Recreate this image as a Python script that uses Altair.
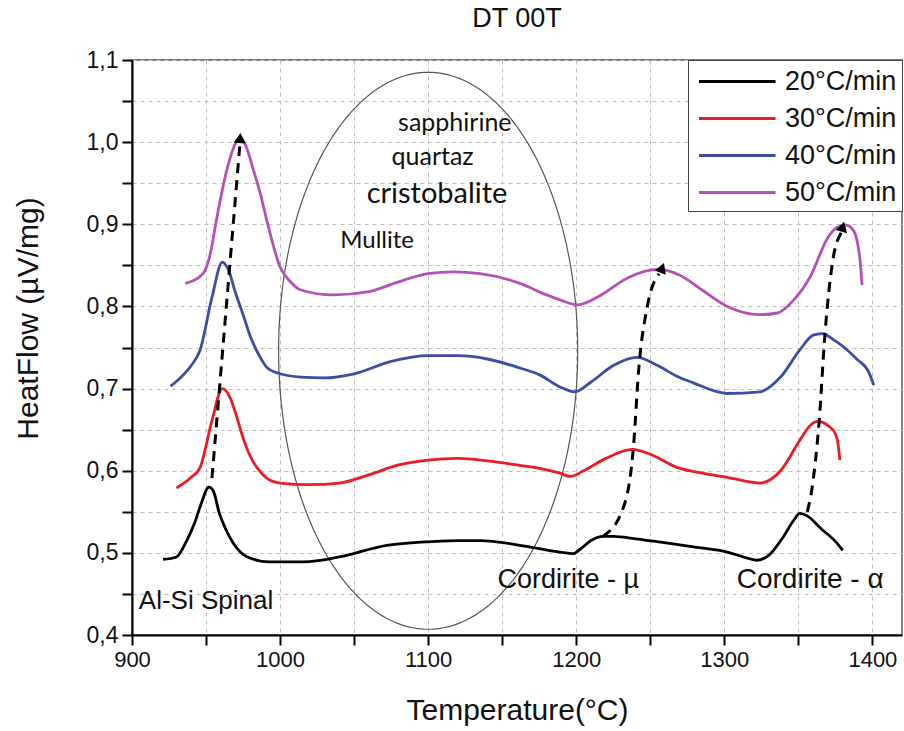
import altair as alt
import pandas as pd
import numpy as np

# ---------------- data ----------------
series_names = ["20°C/min", "30°C/min", "40°C/min", "50°C/min"]
series_colors = ["#000000", "#ec1c24", "#3b4ea3", "#b550b6"]

t20 = [921, 930, 937, 942, 946, 952, 955, 959, 963, 968, 978, 993, 1016, 1040, 1072, 1095, 1120, 1135,
       1169, 1189, 1198, 1203, 1210, 1218, 1225, 1240, 1257, 1280, 1302, 1315, 1322, 1330, 1340, 1347,
       1351, 1356, 1365, 1375, 1380]
v20 = [0.492, 0.495, 0.515, 0.535, 0.556, 0.580, 0.575, 0.548, 0.530, 0.513, 0.495, 0.489, 0.489, 0.495,
       0.509, 0.513, 0.515, 0.515, 0.507, 0.501, 0.499, 0.505, 0.515, 0.520, 0.520, 0.517, 0.513, 0.507,
       0.501, 0.494, 0.491, 0.497, 0.520, 0.540, 0.548, 0.545, 0.530, 0.514, 0.503]

t30 = [930, 940, 946, 954, 961, 966, 970, 975, 980, 986, 991, 1000, 1020, 1040, 1060, 1080, 1100, 1120,
       1140, 1160, 1180, 1189, 1196, 1205, 1220, 1238, 1250, 1268, 1285, 1302, 1324, 1338, 1351, 1358,
       1363, 1370, 1375, 1377, 1378]
v30 = [0.579, 0.592, 0.604, 0.661, 0.700, 0.690, 0.670, 0.640, 0.617, 0.600, 0.591, 0.585, 0.583, 0.585,
       0.595, 0.607, 0.613, 0.615, 0.612, 0.607, 0.601, 0.597, 0.593, 0.600, 0.615, 0.626, 0.620, 0.604,
       0.597, 0.592, 0.585, 0.600, 0.637, 0.655, 0.660, 0.655, 0.645, 0.630, 0.613]

t40 = [926, 932, 940, 946, 954, 961, 965, 970, 975, 980, 986, 991, 1000, 1014, 1030, 1050, 1075, 1100,
       1120, 1140, 1162, 1175, 1189, 1199, 1210, 1225, 1241, 1255, 1268, 1279, 1302, 1324, 1338, 1351,
       1360, 1366, 1375, 1383, 1390, 1397, 1401]
v40 = [0.703, 0.712, 0.728, 0.747, 0.811, 0.854, 0.845, 0.816, 0.790, 0.763, 0.740, 0.726, 0.718, 0.714,
       0.713, 0.718, 0.733, 0.740, 0.740, 0.736, 0.725, 0.717, 0.702, 0.696, 0.708, 0.728, 0.738, 0.728,
       0.715, 0.707, 0.694, 0.696, 0.714, 0.747, 0.765, 0.767, 0.758, 0.747, 0.735, 0.722, 0.704]

t50 = [936, 948, 953, 957, 964, 969, 973, 977, 982, 987, 991, 1000, 1007, 1014, 1036, 1060, 1080, 1100,
       1117, 1135, 1162, 1180, 1189, 1201, 1215, 1235, 1255, 1270, 1285, 1302, 1324, 1336, 1347, 1358,
       1370, 1376, 1382, 1387, 1390, 1392, 1393]
v50 = [0.828, 0.840, 0.865, 0.905, 0.966, 0.995, 1.006, 0.995, 0.966, 0.935, 0.905, 0.848, 0.830, 0.820,
       0.814, 0.818, 0.830, 0.840, 0.842, 0.840, 0.828, 0.814, 0.808, 0.802, 0.812, 0.835, 0.845, 0.838,
       0.820, 0.800, 0.790, 0.792, 0.808, 0.836, 0.884, 0.896, 0.899, 0.893, 0.877, 0.850, 0.826]

# dashed arrows (peak shift)
arrow1_t = [954, 973]
arrow1_v = [0.591, 1.000]
arrow2_t = [1218, 1232, 1239, 1242, 1248, 1256]
arrow2_v = [0.520, 0.556, 0.637, 0.719, 0.800, 0.840]
arrow3_t = [1356, 1359, 1364, 1368, 1373, 1379]
arrow3_v = [0.550, 0.576, 0.659, 0.767, 0.853, 0.890]
arrow_tip_t = [973, 1258, 1380]
arrow_tip_v = [1.005, 0.847, 0.897]
arrow_tip_angle = [4, 21, 16]

# ellipse enclosing the broad middle region
ell_center_t, ell_center_v = 1100, 0.746
ell_radius_t, ell_radius_v = 101, 0.339

# annotation texts
phase_labels = ["sapphirine", "quartaz"]
phase_t = [1118, 1103]
phase_v = [1.023, 0.982]
mullite_label = ["Mullite"]
mullite_t = [1065.5]
mullite_v = [0.880]
big_label = ["cristobalite"]
big_t = [1106]
big_v = [0.937]
spinal_label = ["Al-Si Spinal"]
spinal_t = [950]
spinal_v = [0.441]
cord_mu_label = ["Cordirite - µ"]
cord_mu_t = [1194.6]
cord_mu_v = [0.467]
cord_alpha_label = ["Cordirite - α"]
cord_alpha_t = [1358]
cord_alpha_v = [0.467]

x_ticks = list(range(900, 1401, 50))
y_ticks = [round(0.4 + 0.05 * i, 2) for i in range(15)]

# ---------------- tables ----------------
curves = pd.concat([
    pd.DataFrame({"T": t, "V": v, "rate": n})
    for t, v, n in zip([t20, t30, t40, t50], [v20, v30, v40, v50], series_names)
])

arrows = pd.concat([
    pd.DataFrame({"T": t, "V": v, "id": k, "i": range(len(t))})
    for k, (t, v) in enumerate([(arrow1_t, arrow1_v), (arrow2_t, arrow2_v), (arrow3_t, arrow3_v)])
])
tips = pd.DataFrame({"T": arrow_tip_t, "V": arrow_tip_v, "ang": arrow_tip_angle})

theta = np.linspace(0, 2 * np.pi, 241)
ellipse = pd.DataFrame({
    "T": ell_center_t + ell_radius_t * np.cos(theta),
    "V": ell_center_v + ell_radius_v * np.sin(theta),
    "i": range(len(theta)),
})

FONT = "Liberation Sans"

x_enc = alt.X("T:Q", scale=alt.Scale(domain=[900, 1420], nice=False, zero=False),
              axis=alt.Axis(values=x_ticks, title="Temperature(°C)",
                            labelExpr="datum.value % 100 == 0 ? format(datum.value, 'd') : ''",
                            labelFlush=False, titlePadding=25, titleFontSize=30))
y_enc = alt.Y("V:Q", scale=alt.Scale(domain=[0.4, 1.1], nice=False, zero=False),
              axis=alt.Axis(values=y_ticks, title="HeatFlow (µV/mg)",
                            labelExpr="round(datum.value*100) % 10 == 0 ? replace(format(datum.value, '.1f'), '.', ',') : ''",
                            labelFlush=False, labelFontSize=23, titleFontSize=30,
                            titleX=-104, titleY=258, titleBaseline="middle", titleAlign="center"))

lines = alt.Chart(curves).mark_line(strokeWidth=2.8, interpolate="monotone").encode(
    x=x_enc, y=y_enc,
    color=alt.Color("rate:N", scale=alt.Scale(domain=series_names, range=series_colors),
                    legend=alt.Legend(title=None, orient="top-right", offset=0,
                                      strokeColor="#444", fillColor="white", padding=5,
                                      labelFont=FONT, labelFontSize=27, labelColor="#111",
                                      labelOffset=59, rowPadding=7,
                                      symbolType="M-0.7,0H4.4", symbolSize=900,
                                      symbolStrokeWidth=3)),
)

ell = alt.Chart(ellipse).mark_line(color="#555", strokeWidth=1.2).encode(
    x="T:Q", y="V:Q", order="i:Q")

arr = alt.Chart(arrows).mark_line(color="black", strokeWidth=3, strokeDash=[10, 7],
                                  interpolate="monotone").encode(
    x="T:Q", y="V:Q", detail="id:N", order="i:Q")

tip = alt.Chart(tips).mark_point(shape="triangle-up", filled=True, color="black",
                                 size=140, opacity=1).encode(
    x="T:Q", y="V:Q", angle=alt.Angle("ang:Q", scale=None))


def texts(labels, ts, vs, font, size):
    df = pd.DataFrame({"label": labels, "T": ts, "V": vs})
    return alt.Chart(df).mark_text(font=font, fontSize=size, color="#111").encode(
        x="T:Q", y="V:Q", text="label:N")


layers = alt.layer(
    ell, lines, arr, tip,
    texts(phase_labels, phase_t, phase_v, "Lato", 25),
    texts(mullite_label, mullite_t, mullite_v, "Lato", 24),
    texts(big_label, big_t, big_v, "Lato", 29),
    texts(spinal_label, spinal_t, spinal_v, FONT, 26),
    texts(cord_mu_label, cord_mu_t, cord_mu_v, FONT, 27),
    texts(cord_alpha_label, cord_alpha_t, cord_alpha_v, FONT, 28),
)

chart = layers.properties(
    width=770, height=575,
    title=alt.TitleParams("DT 00T", font=FONT, fontSize=27, fontWeight="normal",
                          anchor="middle", color="#111", offset=16),
    autosize=alt.AutoSizeParams(type="none"),
    padding={"left": 132, "top": 60, "right": 2, "bottom": 96},
).configure_view(
    stroke="#555", strokeWidth=1.5
).configure_axis(
    labelFont=FONT, labelFontSize=22, labelColor="#111",
    titleFont=FONT, titleFontSize=28, titleFontWeight="normal", titleColor="#111",
    domainColor="black", domainWidth=2, tickColor="black", tickWidth=2, tickSize=10,
    labelPadding=4, grid=True, gridColor="#bdbdbd", gridDash=[4, 4], gridWidth=1,
)

chart.save("out.html", embed_options={"renderer": "svg", "actions": False})
